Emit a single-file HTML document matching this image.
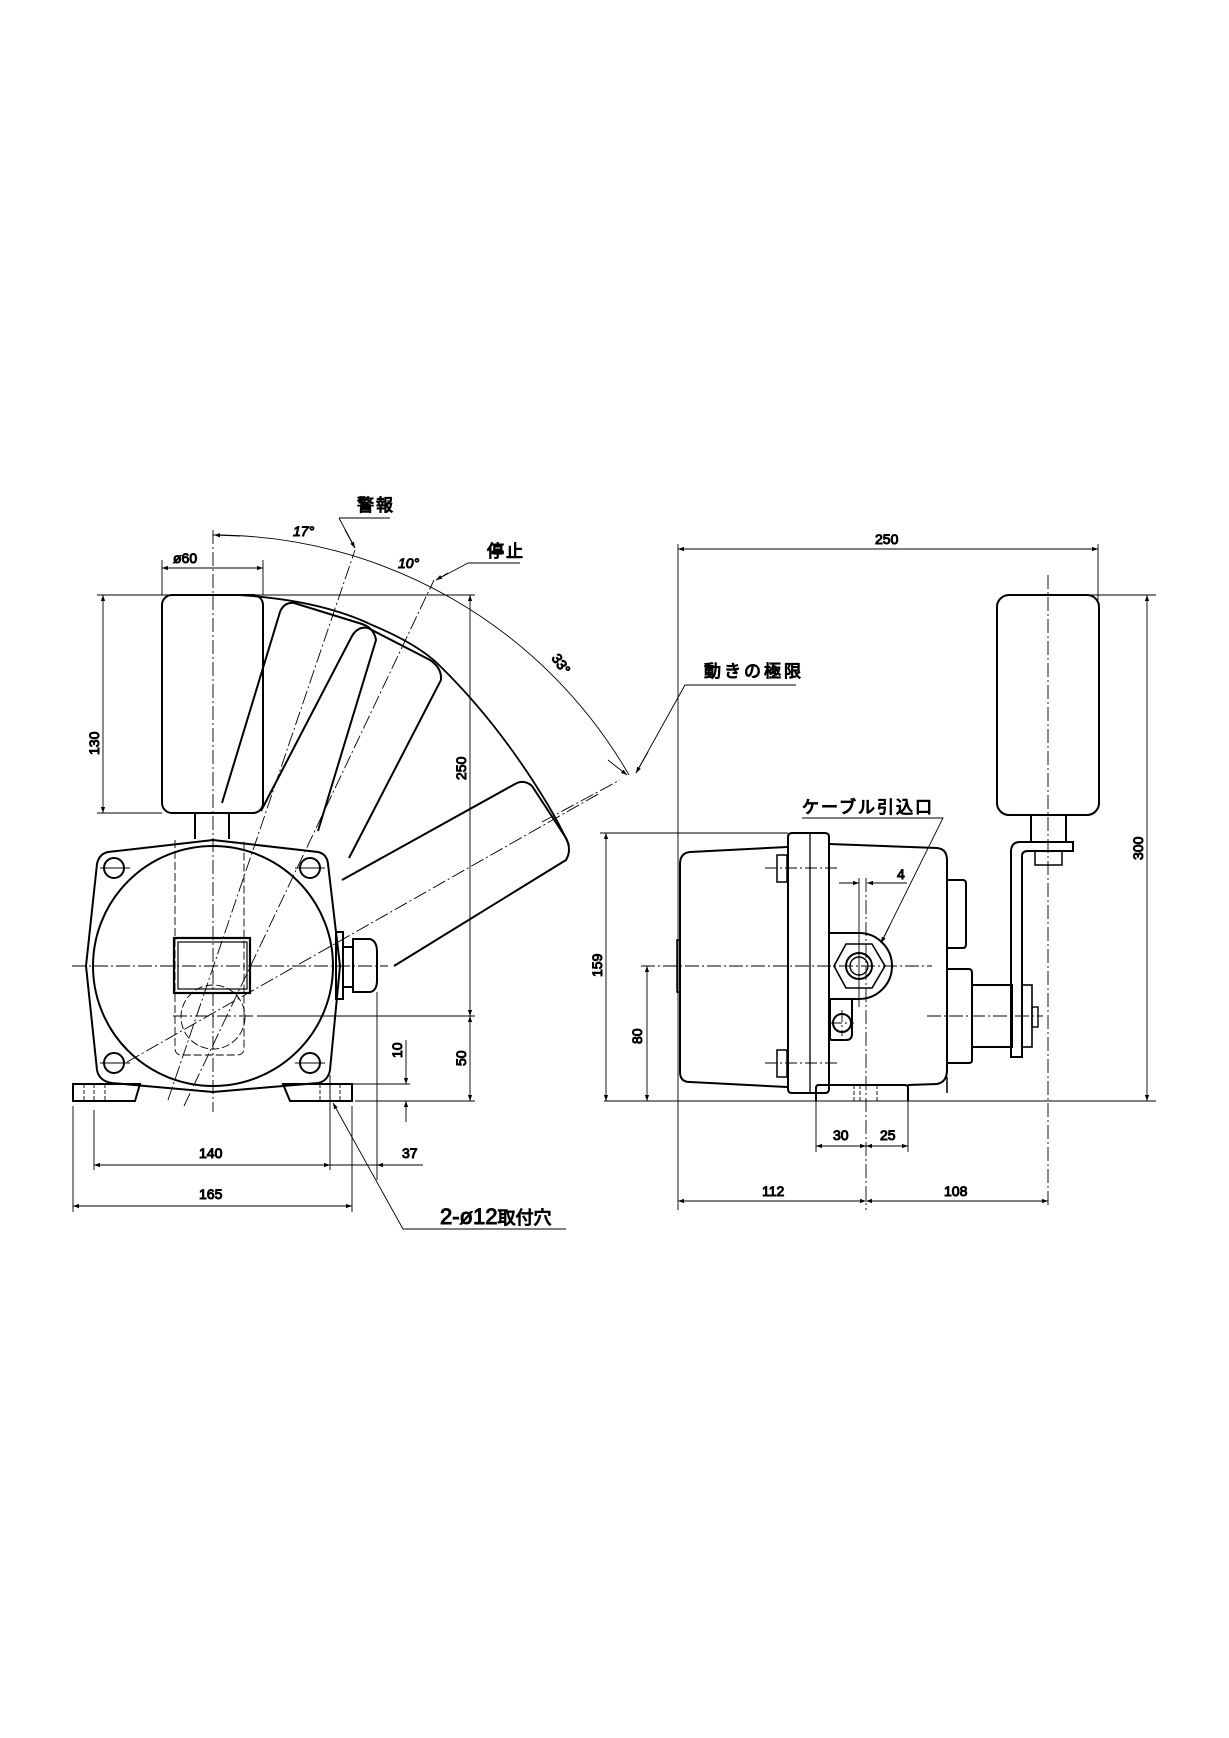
<!DOCTYPE html>
<html><head><meta charset="utf-8"><style>
html,body{margin:0;padding:0;background:#fff;}
svg{display:block;}
text{font-family:"Liberation Sans Narrow","Liberation Sans","Noto Sans CJK JP",sans-serif;fill:#000;}
</style></head><body>
<svg width="1229" height="1738" viewBox="0 0 1229 1738" xmlns="http://www.w3.org/2000/svg">
<defs>
<marker id="a" viewBox="0 0 10 10" refX="10" refY="5" markerWidth="9" markerHeight="6" orient="auto-start-reverse" markerUnits="userSpaceOnUse"><path d="M0,1.5 L10,5 L0,8.5 Z" fill="#000"/></marker>
</defs>
<rect width="1229" height="1738" fill="#fff"/>
<g fill="none" stroke="#000">
<!-- ============ LEFT VIEW ============ -->
<g stroke-width="0.9" stroke-dasharray="14 3 2 3">
<line x1="213" y1="530" x2="213" y2="1112"/>
<line x1="72" y1="966" x2="388" y2="966"/>
<line x1="168" y1="1100" x2="355" y2="550"/>
<line x1="184" y1="1106" x2="434" y2="580"/>
<line x1="127" y1="1062" x2="600" y2="793"/>
</g>
<!-- weights rotated (outlines) -->
<g stroke-width="2">
<path d="M222,803 L280,612 Q284,602 294,603 L362,624 Q374,628 376,640 L318,831"/>
<path d="M261,811 L352,636 Q358,626 368,628 L430,660 Q442,668 441,680 L349,858"/>
<path d="M342,880 L515,784 Q524,779 532,786 L566,838 Q572,850 566,860 L394,966"/>
<path d="M238,595 Q320,600 372,625 Q420,645 441,667 Q500,725 548,805 Q560,825 569,845" stroke-width="1.8"/>
<rect x="162" y="595" width="101" height="218" rx="10"/>
<path d="M195,813 L195,839 M229,813 L229,839"/>
<!-- plate -->
<path d="M213,840 L318,852 Q327,854 328,864 L340,966 L330,1070 Q328,1081 318,1083 L213,1092 L112,1083 Q99,1081 97,1070 L86,966 L97,864 Q99,854 108,852 Z"/>
<circle cx="213" cy="966" r="120"/>
<circle cx="114" cy="868" r="10"/><circle cx="310" cy="868" r="10"/>
<circle cx="114" cy="1063" r="10"/><circle cx="310" cy="1063" r="10"/>
<rect x="174" y="938" width="76" height="55" stroke-width="2.2"/>
<rect x="178" y="942" width="69" height="47" stroke-width="1.2"/>
<!-- gland -->
<rect x="336" y="932" width="7" height="67"/>
<rect x="343" y="947" width="10" height="40"/>
<path d="M353,939 L370,939 Q377,941 377,952 L377,980 Q377,991 370,992 L353,992 Z"/>
<!-- feet -->
<path d="M73,1084 L140,1084 L135,1101 L73,1101 Z"/>
<path d="M283,1084 L352,1084 L352,1101 L290,1101 Z"/>
</g>
<g fill="none" stroke="#000" stroke-width="0.9">
<!-- bolt crosshairs -->
<path d="M100,868 L130,868 M295,868 L325,868 M100,1063 L130,1063 M295,1063 L325,1063"/>
<path d="M84,1084 L84,1101 M94,1084 L94,1101 M105,1084 L105,1101 M320,1084 L320,1101 M330,1084 L330,1101 M340,1084 L340,1101" stroke-dasharray="4 2"/>
<circle cx="213" cy="1017" r="32" stroke-dasharray="8 3"/>
<path d="M175,840 L175,1048 Q175,1055 182,1055 L237,1055 Q244,1055 244,1048 L244,840" stroke-dasharray="8 3"/>
<!-- pivot horizontal -->
<line x1="173" y1="1016" x2="253" y2="1016" stroke-dasharray="14 3 2 3"/>
<line x1="257" y1="1016" x2="475" y2="1016"/>
<!-- dimension lines left -->
<line x1="97" y1="595" x2="475" y2="595"/>
<line x1="97" y1="813" x2="162" y2="813"/>
<line x1="103" y1="595" x2="103" y2="813" marker-start="url(#a)" marker-end="url(#a)"/>
<line x1="162" y1="560" x2="162" y2="595"/><line x1="263" y1="560" x2="263" y2="595"/>
<line x1="162" y1="568" x2="263" y2="568" marker-start="url(#a)" marker-end="url(#a)"/>
<line x1="470" y1="595" x2="470" y2="1016" marker-start="url(#a)" marker-end="url(#a)"/>
<line x1="470" y1="1016" x2="470" y2="1101" marker-start="url(#a)" marker-end="url(#a)"/>
<line x1="355" y1="1101" x2="475" y2="1101"/>
<line x1="352" y1="1084" x2="410" y2="1084"/>
<line x1="406" y1="1040" x2="406" y2="1084" marker-end="url(#a)"/>
<line x1="406" y1="1122" x2="406" y2="1101" marker-end="url(#a)"/>
<!-- bottom dims -->
<line x1="73" y1="1106" x2="73" y2="1212"/><line x1="352" y1="1106" x2="352" y2="1212"/>
<line x1="94" y1="1110" x2="94" y2="1170"/><line x1="330" y1="1075" x2="330" y2="1170"/>
<line x1="377" y1="992" x2="377" y2="1180"/>
<line x1="94" y1="1165" x2="330" y2="1165" marker-start="url(#a)" marker-end="url(#a)"/>
<line x1="423" y1="1165" x2="377" y2="1165" marker-end="url(#a)"/>
<line x1="330" y1="1165" x2="377" y2="1165"/>
<line x1="73" y1="1206" x2="352" y2="1206" marker-start="url(#a)" marker-end="url(#a)"/>
<path d="M566,1229 L403,1229 L333,1103" marker-end="url(#a)"/>
<!-- angle arc r=480 centered 213,1015 -->
<path d="M213,535 A480,480 0 0 1 629,775" />
<line x1="240" y1="536" x2="214" y2="535" marker-end="url(#a)"/>
<path d="M339,518 L390,518 M339,518 L355,548" />
<line x1="345" y1="530" x2="355" y2="548" marker-end="url(#a)"/>
<path d="M468,563 L520,563 M468,563 L436,580"/>
<line x1="448" y1="573" x2="436" y2="580" marker-end="url(#a)"/>
<!-- 動きの極限 leader -->
<path d="M796,685 L685,685 L636,773"/>
<line x1="648" y1="752" x2="636" y2="773" marker-end="url(#a)"/>
<line x1="608" y1="760" x2="627" y2="775" marker-end="url(#a)"/>
<line x1="542" y1="822" x2="620" y2="780" stroke-dasharray="14 3 2 3"/>
</g>
<!-- ============ RIGHT VIEW ============ -->
<g fill="none" stroke="#000" stroke-width="2">
<rect x="997" y="595" width="102" height="220" rx="12"/>
<path d="M1031,815 L1031,842 M1066,815 L1066,842"/>
<path d="M1073,842 L1020,842 Q1011,842 1011,852 L1011,1057 L1022,1057 L1022,856 Q1022,851 1028,851 L1073,851 Z"/>
<rect x="1035" y="851" width="27" height="14" stroke-width="1.5"/>
<!-- rear housing -->
<path d="M787,847 L690,852 Q680,853 680,864 L680,1072 Q680,1082 690,1082 L787,1087"/>
<rect x="677" y="940" width="3" height="52" stroke-width="1.5"/>
<!-- flange -->
<path d="M788,837 Q788,833 792,833 L825,833 Q829,833 829,837 L829,1089 Q829,1093 825,1093 L792,1093 Q788,1093 788,1089 Z"/>
<line x1="810" y1="833" x2="810" y2="1093" stroke-width="1.3"/>
<!-- bolts -->
<rect x="777" y="855" width="10" height="27" stroke-width="1.5"/>
<rect x="777" y="1050" width="10" height="27" stroke-width="1.5"/>
<!-- front housing -->
<path d="M829,844 L937,848 Q947,849 947,860 L947,1070 Q947,1082 937,1084 L908,1085"/>
<path d="M829,844 L829,933 L859,933 A33,33 0 0 1 859,999 L830,999 L830,1038 Q830,1040 832,1040 L846,1040 Q852,1040 852,1034 L852,999"/>
<line x1="829" y1="1040" x2="829" y2="1085"/>
<path d="M834,966 L846,944 L872,944 L885,966 L872,988 L846,988 Z" stroke-width="1.6"/>
<circle cx="859" cy="966" r="13"/><circle cx="859" cy="966" r="9" stroke-width="1.4"/>
<circle cx="842" cy="1023" r="9"/>
<!-- bosses -->
<path d="M947,880 L963,880 Q966,880 966,884 L966,944 Q966,948 963,948 L947,948"/>
<path d="M947,969 L969,969 Q972,969 972,973 L972,1060 Q972,1063 969,1063 L947,1063"/>
<rect x="972" y="985" width="40" height="62"/>
<rect x="1022" y="985" width="10" height="62" stroke-width="1.6"/>
<rect x="1032" y="1007" width="6" height="20" stroke-width="1.4"/>
<!-- foot -->
<path d="M816,1101 L816,1088 Q816,1085 819,1085 L905,1085 Q908,1085 908,1088 L908,1101"/>
<line x1="947" y1="1077" x2="947" y2="1093" stroke-width="1.5"/>
</g>
<g fill="none" stroke="#000" stroke-width="0.9">
<line x1="1048" y1="575" x2="1048" y2="1206" stroke-dasharray="14 3 2 3"/>
<line x1="641" y1="966" x2="932" y2="966" stroke-dasharray="14 3 2 3"/>
<line x1="927" y1="1016" x2="1043" y2="1016" stroke-dasharray="14 3 2 3"/>
<line x1="866" y1="878" x2="866" y2="1210" stroke-dasharray="14 3 2 3"/>
<line x1="859" y1="878" x2="859" y2="1007"/>
<path d="M765,868 L840,868 M765,1063 L840,1063 M830,1023 L854,1023 M842,1010 L842,1036" stroke-dasharray="12 3 2 3"/>
<path d="M854,1085 L854,1101 M860,1085 L860,1101 M877,1085 L877,1101" stroke-dasharray="4 2"/>
<line x1="604" y1="1101" x2="1156" y2="1101"/>
<line x1="600" y1="833" x2="788" y2="833"/>
<line x1="606" y1="833" x2="606" y2="1101" marker-start="url(#a)" marker-end="url(#a)"/>
<line x1="647" y1="966" x2="647" y2="1101" marker-start="url(#a)" marker-end="url(#a)"/>
<line x1="678" y1="544" x2="678" y2="1210"/>
<line x1="1098" y1="544" x2="1098" y2="600"/>
<line x1="678" y1="549" x2="1098" y2="549" marker-start="url(#a)" marker-end="url(#a)"/>
<line x1="1090" y1="595" x2="1156" y2="595"/>
<line x1="1147" y1="595" x2="1147" y2="1101" marker-start="url(#a)" marker-end="url(#a)"/>
<line x1="839" y1="883" x2="859" y2="883" marker-end="url(#a)"/>
<line x1="907" y1="883" x2="867" y2="883" marker-end="url(#a)"/>
<path d="M802,818 L943,818 L881,943"/>
<line x1="890" y1="925" x2="881" y2="943" marker-end="url(#a)"/>
<line x1="816" y1="1101" x2="816" y2="1152"/><line x1="908" y1="1101" x2="908" y2="1152"/>
<line x1="816" y1="1146" x2="866" y2="1146" marker-start="url(#a)" marker-end="url(#a)"/>
<line x1="866" y1="1146" x2="908" y2="1146" marker-start="url(#a)" marker-end="url(#a)"/>
<line x1="678" y1="1201" x2="866" y2="1201" marker-start="url(#a)" marker-end="url(#a)"/>
<line x1="866" y1="1201" x2="1048" y2="1201" marker-start="url(#a)" marker-end="url(#a)"/>
</g>
<!-- ============ TEXT ============ -->
<g font-size="14">
<text x="173" y="563">ø60</text>
<text x="0" y="0" transform="translate(99,755) rotate(-90)">130</text>
<text x="0" y="0" transform="translate(466,780) rotate(-90)">250</text>
<text x="0" y="0" transform="translate(466,1066) rotate(-90)">50</text>
<text x="0" y="0" transform="translate(402,1058) rotate(-90)">10</text>
<text x="199" y="1158">140</text>
<text x="199" y="1199">165</text>
<text x="402" y="1158">37</text>
<text x="293" y="536" font-style="italic">17°</text>
<text x="398" y="568" font-style="italic">10°</text>
<text x="0" y="0" transform="translate(551,658) rotate(55)">33°</text>
<text x="875" y="544">250</text>
<text x="0" y="0" transform="translate(1143,860) rotate(-90)">300</text>
<text x="0" y="0" transform="translate(602,977) rotate(-90)">159</text>
<text x="0" y="0" transform="translate(642,1044) rotate(-90)">80</text>
<text x="897" y="879">4</text>
<text x="833" y="1140">30</text>
<text x="880" y="1140">25</text>
<text x="762" y="1196">112</text>
<text x="944" y="1196">108</text>
</g>
<g font-family="'Noto Sans CJK JP',sans-serif" font-size="17">
<text x="357" y="511" letter-spacing="2">警報</text>
<text x="487" y="557" letter-spacing="2">停止</text>
<text x="704" y="677" letter-spacing="3">動きの極限</text>
<text x="802" y="813" letter-spacing="2">ケーブル引込口</text>
</g>
<text x="440" y="1224" font-size="22">2-ø12<tspan font-family="'Noto Sans CJK JP',sans-serif" font-size="18">取付穴</tspan></text>
</svg>
</body></html>
